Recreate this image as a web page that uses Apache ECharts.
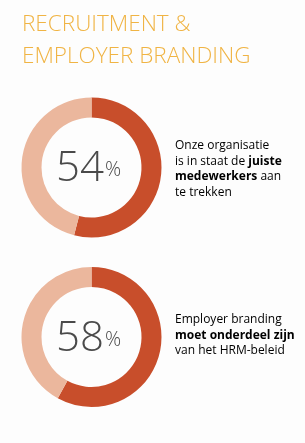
<!DOCTYPE html>
<html><head><meta charset="utf-8">
<script src="https://cdn.jsdelivr.net/npm/echarts@6/dist/echarts.min.js"></script>
<style>html,body{margin:0;padding:0;background:#fdfdfd;}#c{width:305px;height:443px;}</style>
</head><body><div id="c"></div>
<script>
var titleLines = ['RECRUITMENT &', 'EMPLOYER BRANDING'];
var categories = ['Eens', 'Overig'];
var percentValues = [54, 58];
var captions = [
  ['{n|Onze organisatie}', '{n|is in staat de }{b|juiste}', '{b|medewerkers}{n| aan}', '{n|te trekken}'],
  ['{n|Employer branding}', '{b|moet onderdeel zijn}', '{n|van het HRM-beleid}']
];

var centersY = [167.5, 337];
var cx = 91.5;
var darkC = '#C84E2B', lightC = '#EBB79D';

var series = percentValues.map(function (v, i) {
  return {
    type: 'pie', radius: [50, 70], center: [cx, centersY[i]],
    startAngle: 90, clockwise: true, silent: true,
    label: { show: false }, labelLine: { show: false },
    data: [
      { name: categories[0], value: v, itemStyle: { color: darkC } },
      { name: categories[1], value: 100 - v, itemStyle: { color: lightC } }
    ]
  };
});

var graphics = [];
titleLines.forEach(function (t, i) {
  graphics.push({ type: 'text', left: 22, top: 13 + i * 32,
    style: { text: t, font: '300 22.5px "Open Sans"', fill: '#F0B444' } });
});
percentValues.forEach(function (v, i) {
  graphics.push({ type: 'text', x: 104, y: centersY[i] + 2,
    style: { text: String(v), font: '300 42px "Open Sans"', fill: '#4a4a4a', align: 'right', verticalAlign: 'middle' } });
  graphics.push({ type: 'text', x: 105, y: centersY[i] + 3,
    style: { text: '%', font: '300 20px "Open Sans"', fill: '#4a4a4a', align: 'left', verticalAlign: 'middle' } });
});
var capTop = [138, 312];
captions.forEach(function (lines, i) {
  graphics.push({ type: 'text', x: 175, y: capTop[i],
    style: {
      text: lines.join('\n'),
      lineHeight: 15.5,
      rich: {
        n: { fontFamily: 'Open Sans', fontSize: 12, fontWeight: 'normal', color: '#4a4a4a', lineHeight: 15.5 },
        b: { fontFamily: 'Open Sans', fontSize: 12, fontWeight: 'bold', color: '#3a3a3a', lineHeight: 15.5 }
      }
    } });
});

var chart = echarts.init(document.getElementById('c'));
chart.setOption({ backgroundColor: '#fdfdfd', animation: false, series: series, graphic: graphics });
</script></body></html>
